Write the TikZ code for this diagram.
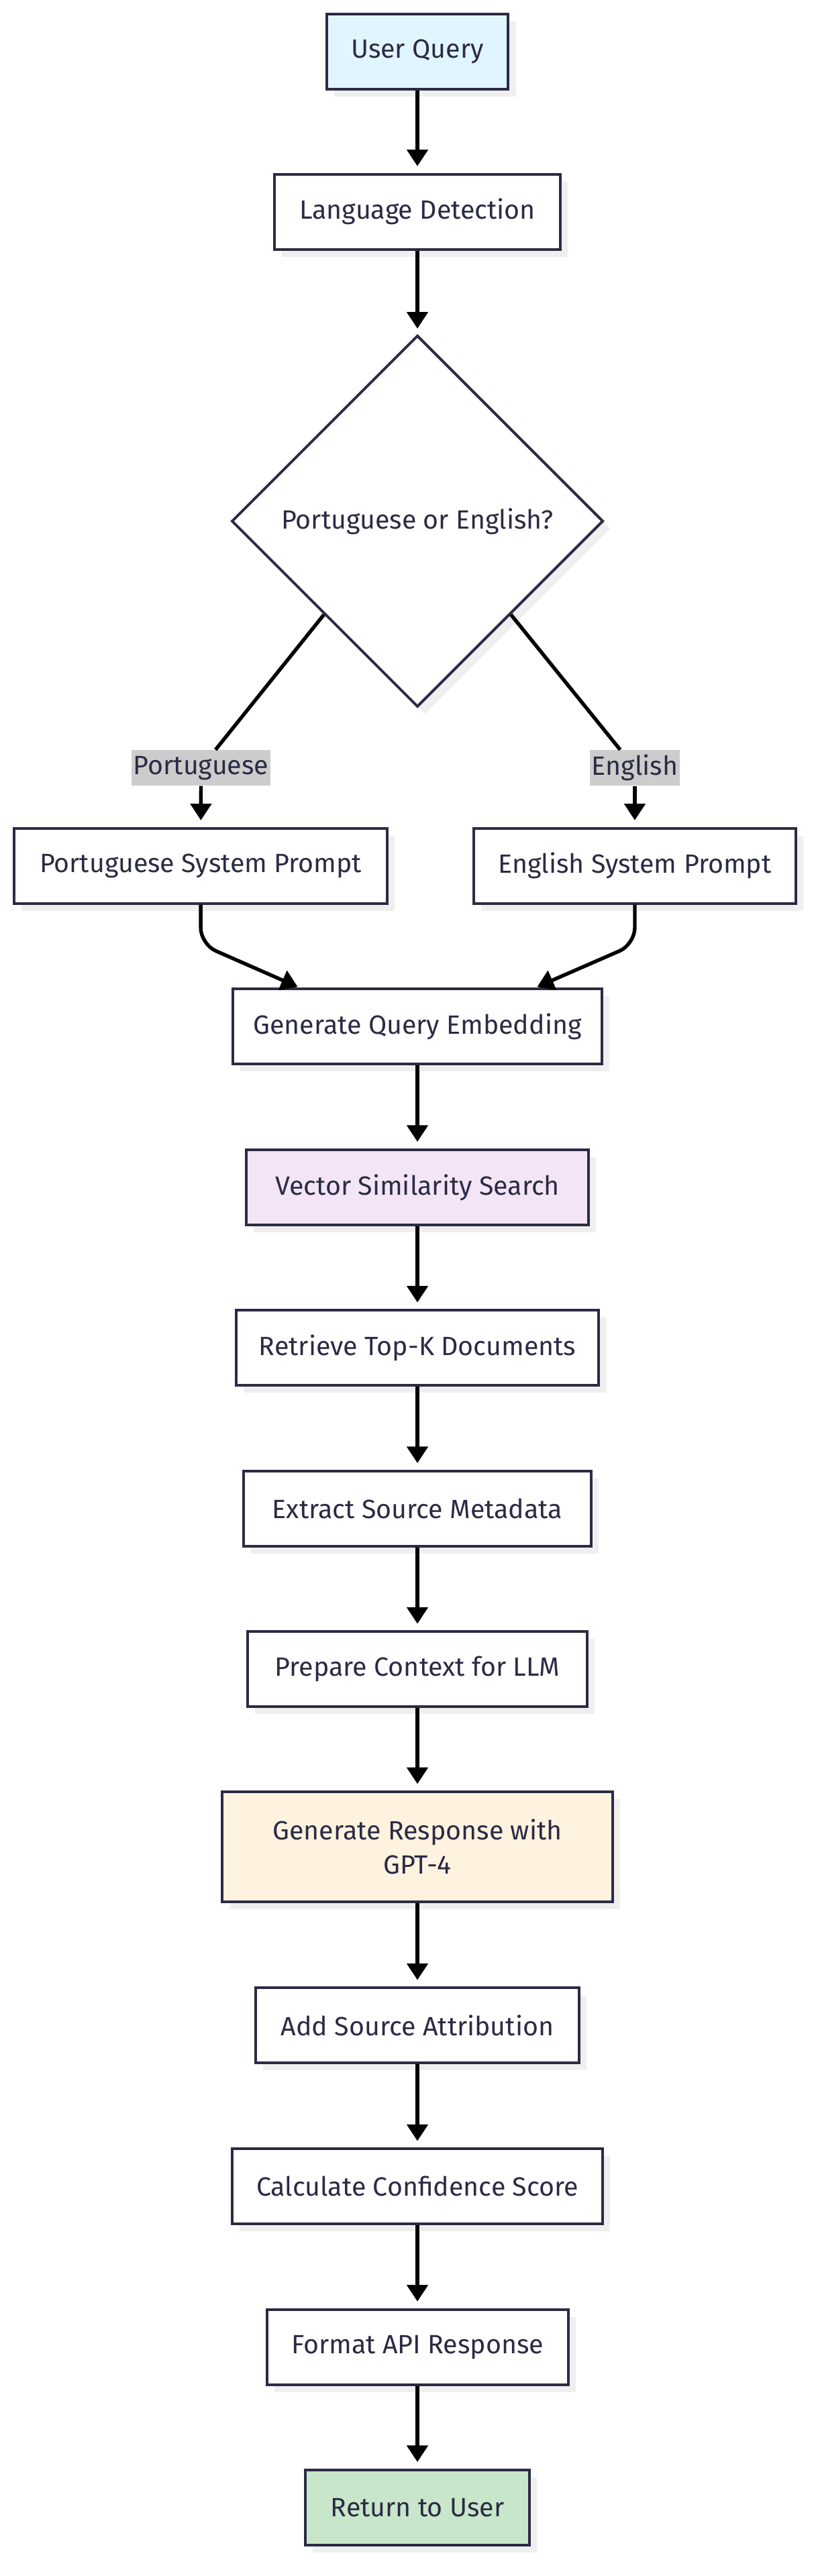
\documentclass[tikz,border=0pt]{standalone}
\usepackage{fontspec}
\setmainfont{Fira Sans}
\usetikzlibrary{arrows.meta,shapes.geometric,shadows}
\definecolor{ink}{HTML}{2B2B45}
\definecolor{shade}{HTML}{EFEFEF}
\definecolor{qblue}{HTML}{E1F5FE}
\definecolor{vlilac}{HTML}{F3E5F5}
\definecolor{gpeach}{HTML}{FFF3E0}
\definecolor{rgreen}{HTML}{C8E6C9}
\definecolor{lblgray}{HTML}{CCCCCC}
\tikzset{>={Triangle[length=10pt,width=12.5pt]},
  proc/.style={rectangle, draw=ink, line width=1.6pt, fill=white, text=ink,
    minimum height=45.5pt, inner sep=0pt, align=center,
    font=\fontsize{16}{21}\selectfont,
    drop shadow={shadow xshift=4.5pt, shadow yshift=-4.5pt, fill=shade, opacity=1}},
  decide/.style={proc, diamond, minimum width=225pt, minimum height=225pt},
  edgelbl/.style={fill=lblgray, text=ink, inner xsep=1pt, inner ysep=0pt,
    minimum height=21.5pt, font=\fontsize{16}{21}\selectfont},
  link/.style={line width=2.2pt},
  flow/.style={link, ->, shorten >=4pt}}

\begin{document}
\begin{tikzpicture}[x=1pt,y=-1pt]
        \useasboundingbox (0,0) rectangle (494,1560);

        \node[proc, fill=qblue, minimum width=110pt] (query) at (252.7,31.1) {User Query};
        \node[proc, minimum width=173pt] (langdet) at (252.7,128.2) {Language Detection};
        \node[decide] (choice) at (252.7,315.6) {Portuguese or English?};
        \node[edgelbl] (ptlbl) at (121.7,465) {Portuguese};
        \node[edgelbl] (enlbl) at (384.3,465) {English};
        \node[proc, minimum width=226pt] (ptprompt) at (121.5,524.3) {Portuguese System Prompt};
        \node[proc, minimum width=195pt] (enprompt) at (384.3,524.3) {English System Prompt};
        \node[proc, minimum width=223.5pt] (embed) at (252.7,621.6) {Generate Query Embedding};
        \node[proc, fill=vlilac, minimum width=207pt] (search) at (252.7,719) {Vector Similarity Search};
        \node[proc, minimum width=219.7pt] (topk) at (252.7,816.3) {Retrieve Top-K Documents};
        \node[proc, minimum width=210.3pt] (meta) at (252.7,913.6) {Extract Source Metadata};
        \node[proc, minimum width=205.4pt] (context) at (252.7,1010.9) {Prepare Context for LLM};
        \node[proc, fill=gpeach, minimum width=236.4pt, minimum height=66.5pt] (gpt) at (252.7,1118.4) {Generate Response with\\GPT-4};
        \node[proc, minimum width=195.8pt] (attrib) at (252.7,1226.6) {Add Source Attribution};
        \node[proc, minimum width=224.2pt] (conf) at (252.7,1324.1) {Calculate Confidence Score};
        \node[proc, minimum width=182.4pt] (format) at (252.7,1421.3) {Format API Response};
        \node[proc, fill=rgreen, minimum width=135.7pt] (reply) at (252.7,1518.5) {Return to User};

        \draw[flow] (query) -- (langdet);
        \draw[flow, shorten >=3.3pt] (langdet) -- (choice);
        \draw[link] (choice.south west) -- (ptlbl);
        \draw[link] (choice.south east) -- (enlbl);
        \draw[flow] (ptlbl) -- (ptprompt);
        \draw[flow] (enlbl) -- (enprompt);
        \draw[flow, shorten >=1pt, rounded corners=10pt] (ptprompt.south) -- ++(0,24)
            -- ([xshift=41pt]embed.north west);
        \draw[flow, shorten >=1pt, rounded corners=10pt] (enprompt.south) -- ++(0,24)
            -- ([xshift=-41pt]embed.north east);

        \foreach \a/\b in {embed/search,search/topk,topk/meta,meta/context,context/gpt,
            gpt/attrib,attrib/conf,conf/format,format/reply}
            \draw[flow] (\a) -- (\b);
\end{tikzpicture}
\end{document}
